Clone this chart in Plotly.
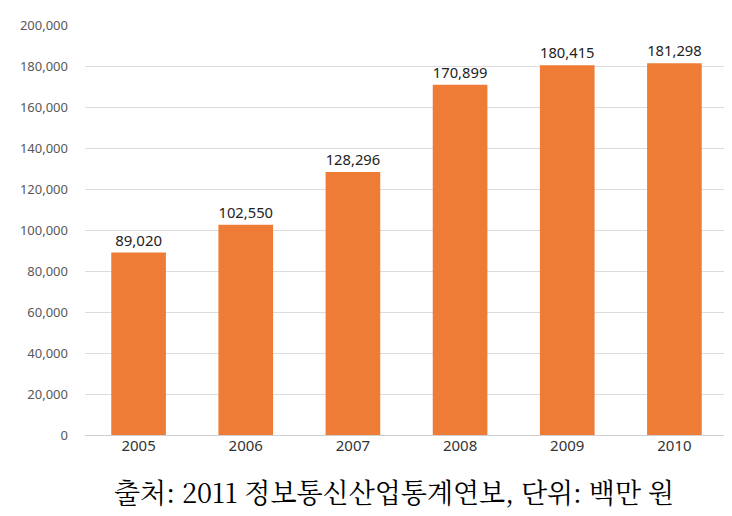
import plotly.graph_objects as go

years = ["2005", "2006", "2007", "2008", "2009", "2010"]
values = [89020, 102550, 128296, 170899, 180415, 181298]
y_ticks = [0, 20000, 40000, 60000, 80000, 100000, 120000, 140000, 160000, 180000, 200000]
caption = "출처: 2011 정보통신산업통계연보, 단위: 백만 원"

fig = go.Figure()
fig.add_trace(go.Bar(
    x=years, y=values,
    marker=dict(color="#ee7c36", line=dict(width=0)),
    text=[f"{v:,}" for v in values],
    textposition="outside",
    textfont=dict(family="Noto Sans, sans-serif", size=15, color="#222222"),
    cliponaxis=False,
))

fig.update_layout(
    width=724, height=508,
    margin=dict(l=77, r=4, t=17, b=81, autoexpand=False),
    paper_bgcolor="white", plot_bgcolor="white",
    bargap=0.49,
    showlegend=False,
    font=dict(family="Noto Sans, sans-serif"),
    xaxis=dict(
        type="category",
        tickfont=dict(size=15, color="#333333"),
        showgrid=False, showline=False, ticks="",
    ),
    yaxis=dict(
        range=[0, 200000],
        tickvals=y_ticks,
        tickformat=",d",
        tickfont=dict(size=13, color="#595959"),
        showgrid=True, gridcolor="#dcdcdc", gridwidth=1,
        zeroline=True, zerolinecolor="#d0d0d0", zerolinewidth=1,
        ticks="", ticklabelstandoff=16,
    ),
    annotations=[dict(
        text=caption, xref="paper", yref="paper",
        x=0.48, y=-0.139, xanchor="center", yanchor="middle",
        showarrow=False,
        font=dict(family="Noto Serif CJK KR, Noto Sans CJK KR, serif", size=27, color="#000000"),
    )],
)

fig.write_html("out.html")
